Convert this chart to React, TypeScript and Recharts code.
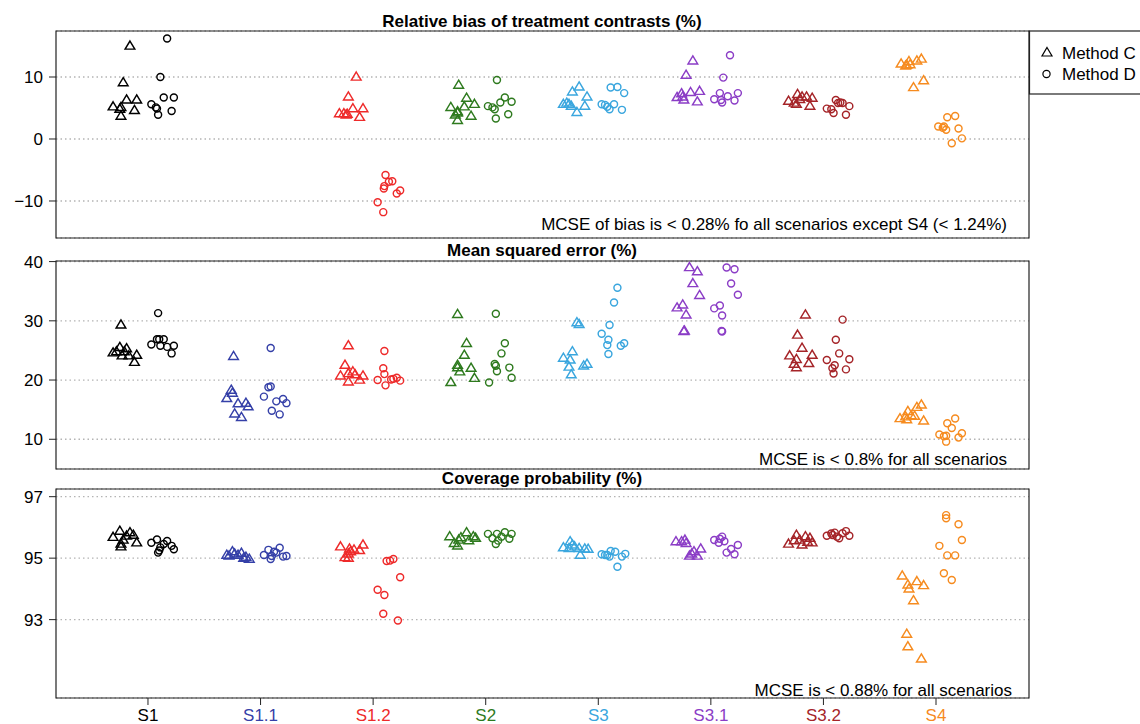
import React from 'react';
import { ScatterChart, Scatter, XAxis, YAxis, CartesianGrid, ReferenceArea } from 'recharts';

const scenarios = ['S1', 'S1.1', 'S1.2', 'S2', 'S3', 'S3.1', 'S3.2', 'S4'];
const scenarioColors = ['#000000', '#3540A8', '#EE2A2A', '#2E7A1E', '#3AA6DE', '#8B3DC6', '#A52428', '#F68B1F'];
const scenarioIndex = [1, 2, 3, 4, 5, 6, 7, 8];

// each point: [jitter offset from scenario position, value]
const biasMethodC: number[][][] = [
  [[-0.16, 15.0], [-0.22, 9.1], [-0.31, 5.2], [-0.19, 6.3], [-0.10, 6.3], [-0.25, 4.8], [-0.24, 3.7], [-0.12, 4.6], [-0.24, 5.1]],
  [],
  [[-0.15, 10.0], [-0.22, 6.8], [-0.18, 4.9], [-0.09, 4.9], [-0.30, 4.1], [-0.24, 3.9], [-0.23, 4.0], [-0.12, 3.5], [-0.26, 4.1]],
  [[-0.24, 8.7], [-0.17, 6.6], [-0.31, 5.1], [-0.19, 5.2], [-0.10, 5.6], [-0.25, 4.4], [-0.27, 3.9], [-0.13, 3.7], [-0.25, 3.0], [-0.25, 4.2]],
  [[-0.17, 8.4], [-0.23, 7.6], [-0.10, 6.8], [-0.31, 5.6], [-0.26, 5.6], [-0.24, 5.3], [-0.12, 5.3], [-0.19, 4.3], [-0.28, 5.8]],
  [[-0.16, 12.6], [-0.22, 10.3], [-0.18, 7.5], [-0.10, 7.7], [-0.30, 6.7], [-0.25, 6.8], [-0.24, 6.3], [-0.12, 6.0], [-0.26, 7.3]],
  [[-0.23, 7.2], [-0.19, 6.8], [-0.15, 6.8], [-0.10, 6.6], [-0.31, 6.1], [-0.26, 5.8], [-0.24, 5.6], [-0.12, 5.3], [-0.21, 6.4]],
  [[-0.13, 12.9], [-0.17, 12.6], [-0.24, 12.5], [-0.31, 12.1], [-0.26, 11.9], [-0.27, 11.8], [-0.23, 12.0], [-0.11, 9.4], [-0.20, 8.3]],
];
const biasMethodD: number[][][] = [
  [[0.17, 16.2], [0.11, 10.0], [0.14, 6.7], [0.23, 6.7], [0.03, 5.6], [0.08, 4.9], [0.09, 3.9], [0.21, 4.5], [0.07, 5.1]],
  [],
  [[0.11, -5.8], [0.17, -6.8], [0.14, -6.9], [0.10, -7.6], [0.095, -8.0], [0.24, -8.3], [0.21, -8.8], [0.04, -10.2], [0.09, -11.8]],
  [[0.10, 9.5], [0.17, 6.7], [0.23, 6.0], [0.02, 5.3], [0.08, 4.8], [0.13, 5.9], [0.09, 3.3], [0.20, 4.0], [0.06, 5.1]],
  [[0.11, 8.3], [0.17, 8.4], [0.23, 7.4], [0.03, 5.6], [0.14, 5.6], [0.08, 5.2], [0.10, 4.8], [0.21, 4.7], [0.06, 5.5]],
  [[0.17, 13.5], [0.11, 9.9], [0.08, 7.4], [0.24, 7.4], [0.15, 6.9], [0.03, 6.4], [0.09, 6.3], [0.21, 6.2], [0.10, 5.9]],
  [[0.11, 6.3], [0.15, 5.9], [0.17, 5.8], [0.23, 5.3], [0.03, 4.9], [0.07, 4.8], [0.09, 4.2], [0.20, 3.9], [0.13, 5.8]],
  [[0.17, 3.7], [0.10, 3.5], [0.02, 2.0], [0.07, 2.0], [0.09, 1.5], [0.20, 1.7], [0.23, 0.1], [0.14, -0.7], [0.06, 1.8]],
];

const mseMethodC: number[][][] = [
  [[-0.24, 29.3], [-0.25, 25.5], [-0.19, 25.3], [-0.31, 24.6], [-0.28, 24.8], [-0.21, 24.8], [-0.23, 24.1], [-0.17, 24.1], [-0.10, 24.2], [-0.12, 23.0]],
  [[-0.24, 24.0], [-0.26, 18.3], [-0.25, 17.8], [-0.30, 16.9], [-0.20, 16.0], [-0.13, 16.1], [-0.11, 15.5], [-0.23, 14.3], [-0.17, 13.7]],
  [[-0.22, 25.8], [-0.25, 22.5], [-0.18, 21.4], [-0.22, 21.1], [-0.29, 20.7], [-0.16, 20.9], [-0.09, 20.7], [-0.22, 19.7], [-0.12, 20.0]],
  [[-0.25, 31.1], [-0.17, 26.2], [-0.19, 24.2], [-0.25, 22.5], [-0.25, 22.1], [-0.23, 21.4], [-0.13, 22.0], [-0.10, 20.3], [-0.31, 19.6]],
  [[-0.19, 29.7], [-0.17, 29.4], [-0.23, 24.8], [-0.31, 23.7], [-0.25, 23.4], [-0.26, 22.2], [-0.13, 22.4], [-0.10, 22.7], [-0.24, 20.9]],
  [[-0.19, 39.0], [-0.12, 38.3], [-0.16, 36.3], [-0.10, 34.3], [-0.30, 32.2], [-0.25, 32.7], [-0.22, 31.0], [-0.24, 28.2], [-0.235, 28.3]],
  [[-0.16, 31.0], [-0.23, 27.6], [-0.19, 25.4], [-0.30, 24.1], [-0.10, 24.2], [-0.24, 23.5], [-0.26, 22.7], [-0.24, 22.1], [-0.13, 22.8]],
  [[-0.13, 15.8], [-0.17, 15.4], [-0.25, 14.7], [-0.22, 14.0], [-0.32, 13.5], [-0.27, 13.8], [-0.26, 13.3], [-0.19, 13.9], [-0.11, 13.1]],
];
const mseMethodD: number[][][] = [
  [[0.09, 31.3], [0.08, 26.9], [0.10, 26.9], [0.14, 26.9], [0.03, 26.0], [0.11, 25.8], [0.17, 25.6], [0.23, 25.8], [0.21, 24.5]],
  [[0.09, 25.4], [0.07, 18.8], [0.09, 18.9], [0.03, 17.2], [0.14, 16.4], [0.20, 16.8], [0.23, 16.1], [0.10, 14.8], [0.17, 14.2]],
  [[0.10, 24.9], [0.09, 22.0], [0.10, 21.0], [0.04, 20.0], [0.16, 20.1], [0.21, 20.4], [0.24, 19.9], [0.11, 19.1], [0.18, 20.2]],
  [[0.09, 31.2], [0.17, 26.2], [0.14, 24.5], [0.08, 22.7], [0.09, 22.4], [0.10, 21.5], [0.21, 22.1], [0.23, 20.4], [0.03, 19.6]],
  [[0.17, 35.6], [0.14, 33.1], [0.10, 29.3], [0.03, 27.8], [0.09, 26.8], [0.08, 25.9], [0.23, 26.2], [0.20, 25.8], [0.09, 24.4]],
  [[0.14, 39.0], [0.21, 38.7], [0.18, 36.3], [0.24, 34.4], [0.08, 32.6], [0.03, 32.1], [0.10, 30.9], [0.10, 28.2], [0.095, 28.3]],
  [[0.17, 30.2], [0.11, 26.8], [0.14, 24.5], [0.03, 23.4], [0.23, 23.5], [0.10, 22.5], [0.08, 22.0], [0.09, 21.1], [0.20, 21.8]],
  [[0.17, 13.5], [0.10, 12.7], [0.14, 11.9], [0.03, 10.8], [0.09, 10.6], [0.23, 11.0], [0.20, 10.3], [0.09, 9.6], [0.07, 10.5]],
];

const coverageMethodC: number[][][] = [
  [[-0.25, 95.88], [-0.31, 95.68], [-0.16, 95.83], [-0.19, 95.72], [-0.13, 95.75], [-0.10, 95.50], [-0.22, 95.59], [-0.24, 95.46], [-0.24, 95.37]],
  [[-0.30, 95.10], [-0.25, 95.21], [-0.23, 95.14], [-0.20, 95.10], [-0.17, 95.16], [-0.13, 95.03], [-0.10, 94.97], [-0.28, 95.07], [-0.15, 95.00]],
  [[-0.29, 95.37], [-0.09, 95.43], [-0.21, 95.30], [-0.17, 95.27], [-0.12, 95.25], [-0.20, 95.21], [-0.22, 95.14], [-0.25, 95.02], [-0.22, 95.00]],
  [[-0.17, 95.83], [-0.32, 95.70], [-0.22, 95.67], [-0.11, 95.70], [-0.24, 95.59], [-0.15, 95.57], [-0.28, 95.48], [-0.25, 95.40], [-0.09, 95.65]],
  [[-0.25, 95.54], [-0.31, 95.34], [-0.26, 95.32], [-0.21, 95.37], [-0.17, 95.32], [-0.12, 95.30], [-0.09, 95.29], [-0.16, 95.10], [-0.23, 95.43]],
  [[-0.31, 95.54], [-0.26, 95.54], [-0.23, 95.59], [-0.22, 95.48], [-0.15, 95.21], [-0.09, 95.30], [-0.19, 95.07], [-0.12, 95.07], [-0.17, 95.14]],
  [[-0.24, 95.75], [-0.16, 95.70], [-0.12, 95.65], [-0.21, 95.59], [-0.26, 95.57], [-0.31, 95.46], [-0.19, 95.43], [-0.10, 95.50], [-0.14, 95.52]],
  [[-0.30, 94.42], [-0.17, 94.24], [-0.11, 94.11], [-0.25, 94.13], [-0.24, 94.00], [-0.20, 93.62], [-0.26, 92.53], [-0.25, 92.12], [-0.13, 91.72]],
];
const coverageMethodD: number[][][] = [
  [[0.08, 95.61], [0.03, 95.50], [0.17, 95.56], [0.14, 95.46], [0.11, 95.35], [0.21, 95.40], [0.23, 95.29], [0.09, 95.18], [0.10, 95.25]],
  [[0.17, 95.34], [0.07, 95.27], [0.12, 95.21], [0.03, 95.10], [0.10, 95.07], [0.09, 94.97], [0.20, 95.05], [0.23, 95.07], [0.14, 95.18]],
  [[0.12, 94.91], [0.15, 94.92], [0.18, 94.97], [0.24, 94.38], [0.04, 93.97], [0.10, 93.80], [0.09, 93.19], [0.22, 92.97]],
  [[0.02, 95.79], [0.10, 95.79], [0.17, 95.84], [0.23, 95.79], [0.14, 95.70], [0.06, 95.65], [0.21, 95.63], [0.09, 95.46], [0.11, 95.57]],
  [[0.11, 95.23], [0.15, 95.21], [0.03, 95.13], [0.08, 95.10], [0.10, 95.05], [0.24, 95.14], [0.21, 95.05], [0.17, 94.72], [0.06, 95.10]],
  [[0.10, 95.70], [0.03, 95.59], [0.08, 95.63], [0.07, 95.50], [0.24, 95.43], [0.18, 95.30], [0.14, 95.18], [0.21, 95.13], [0.12, 95.55]],
  [[0.20, 95.88], [0.10, 95.83], [0.17, 95.81], [0.23, 95.73], [0.03, 95.73], [0.08, 95.75], [0.14, 95.65], [0.12, 95.70], [0.07, 95.80]],
  [[0.09, 96.40], [0.09, 96.30], [0.20, 96.10], [0.23, 95.59], [0.03, 95.40], [0.10, 95.09], [0.17, 95.09], [0.07, 94.51], [0.14, 94.29]],
];

const biasTicks = [-10, 0, 10];
const mseTicks = [10, 20, 30, 40];
const coverageTicks = [93, 95, 97];

const xDomain: [number, number] = [0.183, 8.826];
const FONT = '"Liberation Sans", Arial, Helvetica, sans-serif';

const toPoints = (arr: number[][], i: number) => arr.map(([dx, v]) => ({ x: scenarioIndex[i] + dx, y: v }));

const triShape = (color: string) => (props: any) => {
  const { cx, cy } = props;
  const r = 5;
  const pts = `${cx},${cy - r} ${cx + r * 0.97},${cy + r * 0.62} ${cx - r * 0.97},${cy + r * 0.62}`;
  return <polygon points={pts} fill="none" stroke={color} strokeWidth={1.45} />;
};
const circShape = (color: string) => (props: any) => {
  const { cx, cy } = props;
  return <circle cx={cx} cy={cy} r={3.5} fill="none" stroke={color} strokeWidth={1.45} />;
};

const XTick = (props: any) => {
  const { x, y, payload } = props;
  const i = Math.round(payload.value) - 1;
  return (
    <text x={x} y={y + 14} textAnchor="middle" fill={scenarioColors[i]} fontSize={17} fontFamily={FONT}>
      {scenarios[i]}
    </text>
  );
};

const fmtY = (v: number) => String(v).replace('-', '\u2212');

interface PanelProps {
  top: number;
  height: number;
  marginTop: number;
  marginBottom: number;
  yDomain: [number, number];
  yTicks: number[];
  cData: number[][][];
  dData: number[][][];
  showX: boolean;
}

function Panel({ top, height, marginTop, marginBottom, yDomain, yTicks, cData, dData, showX }: PanelProps) {
  return (
    <div style={{ position: 'absolute', left: 0, top }}>
      <ScatterChart width={1140} height={height} margin={{ top: marginTop, right: 111, bottom: marginBottom, left: 0 }}>
        <CartesianGrid horizontal vertical={false} stroke="#b4b4b4" strokeDasharray="1.5 3" strokeWidth={1.3} />
        <XAxis
          type="number"
          dataKey="x"
          domain={xDomain}
          ticks={scenarioIndex}
          allowDataOverflow
          hide={!showX}
          height={26}
          axisLine={false}
          tickLine={{ stroke: '#222' }}
          tickSize={7}
          tick={<XTick />}
          interval={0}
        />
        <YAxis
          type="number"
          dataKey="y"
          domain={yDomain}
          ticks={yTicks}
          allowDataOverflow
          width={56}
          axisLine={false}
          tickLine={{ stroke: '#222' }}
          tickSize={7}
          tickMargin={6}
          tickFormatter={fmtY}
          tick={{ fill: '#000', fontSize: 17, fontFamily: FONT }}
          interval={0}
        />
        <ReferenceArea x1={xDomain[0]} x2={xDomain[1]} y1={yDomain[0]} y2={yDomain[1]} fill="none" stroke="#222" strokeWidth={1.2} fillOpacity={0} />
        {scenarios.map((s, i) => (
          <Scatter key={'c' + s} name={s + ' C'} data={toPoints(cData[i], i)} shape={triShape(scenarioColors[i])} isAnimationActive={false} />
        ))}
        {scenarios.map((s, i) => (
          <Scatter key={'d' + s} name={s + ' D'} data={toPoints(dData[i], i)} shape={circShape(scenarioColors[i])} isAnimationActive={false} />
        ))}
      </ScatterChart>
    </div>
  );
}

export default function App() {
  return (
    <div style={{ position: 'absolute', left: 0, top: 0, width: 1140, height: 724, overflow: 'hidden', background: '#fff', fontFamily: FONT }}>
      <Panel top={0} height={240} marginTop={31} marginBottom={2} yDomain={[-15.97, 17.42]} yTicks={biasTicks} cData={biasMethodC} dData={biasMethodD} showX={false} />
      <Panel top={240} height={230} marginTop={21} marginBottom={1} yDomain={[4.98, 40.1]} yTicks={mseTicks} cData={mseMethodC} dData={mseMethodD} showX={false} />
      <Panel top={470} height={254} marginTop={19} marginBottom={0} yDomain={[90.45, 97.25]} yTicks={coverageTicks} cData={coverageMethodC} dData={coverageMethodD} showX={true} />
      <svg width={1140} height={724} style={{ position: 'absolute', left: 0, top: 0, pointerEvents: 'none' }}>
        <g fontFamily={FONT} fill="#000">
          <text x={542} y={27} textAnchor="middle" fontSize={17} fontWeight="bold">Relative bias of treatment contrasts (%)</text>
          <text x={542} y={255.5} textAnchor="middle" fontSize={17} fontWeight="bold">Mean squared error (%)</text>
          <text x={542} y={484} textAnchor="middle" fontSize={17} fontWeight="bold">Coverage probability (%)</text>
          <text x={1007} y={230} textAnchor="end" fontSize={17}>MCSE of bias is &lt; 0.28% fo all scenarios except S4 (&lt; 1.24%)</text>
          <text x={1007} y={465} textAnchor="end" fontSize={17}>MCSE is &lt; 0.8% for all scenarios</text>
          <text x={1012} y={696} textAnchor="end" fontSize={17}>MCSE is &lt; 0.88% for all scenarios</text>
          <rect x={1029.5} y={31} width={130} height={63} fill="#fff" stroke="#222" strokeWidth={1.2} />
          <polygon points="1047,47.5 1052,56 1042,56" fill="none" stroke="#000" strokeWidth={1.2} />
          <text x={1062} y={59} fontSize={17}>Method C</text>
          <circle cx={1046.5} cy={74} r={3.6} fill="none" stroke="#000" strokeWidth={1.2} />
          <text x={1062} y={80} fontSize={17}>Method D</text>
        </g>
      </svg>
    </div>
  );
}
